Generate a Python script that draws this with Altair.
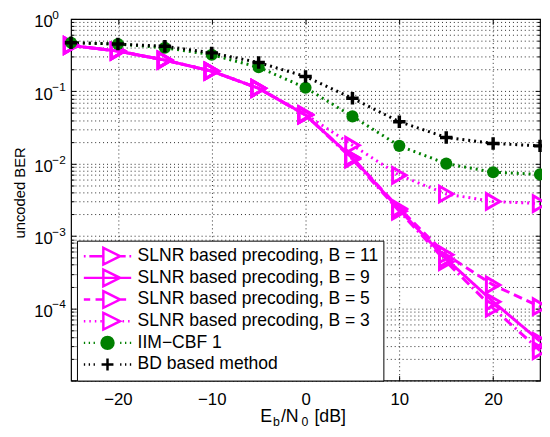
import math
import altair as alt
import pandas as pd

FONT = "Liberation Sans"

# ---------------- data ----------------
x_vals = [-25, -20, -15, -10, -5, 0, 5, 10, 15, 20, 25]
series_names = [
    "SLNR based precoding, B = 11",
    "SLNR based precoding, B = 9",
    "SLNR based precoding, B = 5",
    "SLNR based precoding, B = 3",
    "IIM−CBF 1",
    "BD based method",
]
series_keys = ["b11", "b9", "b5", "b3", "iim", "bd"]
ber_b11 = [0.43, 0.36, 0.27, 0.19, 0.11, 0.047, 0.0115, 0.0022, 0.00044, 0.0001, 0.000026]
ber_b9 = [0.43, 0.36, 0.27, 0.19, 0.11, 0.047, 0.012, 0.0023, 0.00048, 0.000123, 0.000035]
ber_b5 = [0.43, 0.36, 0.27, 0.19, 0.11, 0.047, 0.012, 0.0024, 0.00055, 0.00021, 0.000105]
ber_b3 = [0.43, 0.36, 0.27, 0.19, 0.11, 0.048, 0.018, 0.0069, 0.0038, 0.0030, 0.0028]
ber_iim = [0.47, 0.45, 0.40, 0.32, 0.215, 0.112, 0.045, 0.0176, 0.010, 0.0076, 0.0071]
ber_bd = [0.47, 0.45, 0.42, 0.34, 0.25, 0.16, 0.08, 0.038, 0.023, 0.019, 0.0176]

x_ticks = [-20, -10, 0, 10, 20]
y_decades = [1, 0.1, 0.01, 0.001, 0.0001]
y_exponents = ["0", "−1", "−2", "−3", "−4"]

all_ber = [ber_b11, ber_b9, ber_b5, ber_b3, ber_iim, ber_bd]
rows = []
for name, key, vals in zip(series_names, series_keys, all_ber):
    for xv, yv in zip(x_vals, vals):
        rows.append({"x": xv, "y": yv, "series": name, "key": key})
df = pd.DataFrame(rows)

# ---------------- styles ----------------
MAG = "#ff00ff"
GRN = "#008000"
colors = [MAG, MAG, MAG, MAG, GRN, "#000000"]
dashes = [[10, 4, 2, 4], [1, 0], [9, 5], [2, 4], [2, 4], [2, 4]]
widths = [3, 3, 3, 3, 2, 2]

major_y = [10.0 ** e for e in range(-5, 1)]
minor_y = [m * 10.0 ** e for e in range(-5, 0) for m in range(2, 10)]
grid_vals = sorted(major_y + minor_y)

xscale = alt.Scale(domain=[-25, 25], nice=False, zero=False)
yscale = alt.Scale(type="log", domain=[1e-5, 1], nice=False)

x_enc = alt.X(
    "x:Q", scale=xscale,
    axis=alt.Axis(
        values=x_ticks, title=None, grid=True, gridDash=[1, 3], gridColor="#000000",
        gridOpacity=0.85, gridWidth=1, tickSize=0, labelPadding=11,
        labelFontSize=17, labelFont=FONT, labelColor="black", domain=False,
    ),
)
y_enc = alt.Y(
    "y:Q", scale=yscale,
    axis=alt.Axis(
        values=grid_vals,
        labelExpr="(abs(log(datum.value)/LN10 - round(log(datum.value)/LN10)) < 0.001 && datum.value > 0.00002) ? '10' : ''",
        title="uncoded BER", titleFontSize=15, titleFont=FONT, titleFontWeight="normal",
        titleColor="black", titleX=-52, titleY=176, titleBaseline="middle", titleAngle=270,
        grid=True, gridDash=[1, 3], gridColor="#000000", gridOpacity=0.85, gridWidth=1,
        tickSize=0, labelPadding=19, labelOffset=3, labelFontSize=17, labelFont=FONT,
        labelColor="black", domain=False,
    ),
)
x_na = alt.X("x:Q", scale=xscale, axis=None)
y_na = alt.Y("y:Q", scale=yscale, axis=None)

color_enc = alt.Color("key:N", scale=alt.Scale(domain=series_keys, range=colors), legend=None)

lines = alt.Chart(df).mark_line(clip=False).encode(
    x=x_enc, y=y_enc, color=color_enc,
    strokeDash=alt.StrokeDash("key:N", scale=alt.Scale(domain=series_keys, range=dashes), legend=None),
    strokeWidth=alt.StrokeWidth("key:N", scale=alt.Scale(domain=series_keys, range=widths), legend=None),
    detail="key:N",
)

tri = alt.Chart(df).transform_filter(
    alt.FieldOneOfPredicate(field="key", oneOf=series_keys[:4])
).mark_point(shape="triangle-right", filled=False, size=250, strokeWidth=3, opacity=1).encode(
    x=x_na, y=y_na, color=color_enc
)

circ = alt.Chart(df).transform_filter(
    alt.FieldEqualPredicate(field="key", equal=series_keys[4])
).mark_point(shape="circle", filled=True, size=150, opacity=1).encode(
    x=x_na, y=y_na, color=color_enc
)

PLUS = "M-1,0L1,0M0,-1L0,1"
plus = alt.Chart(df).transform_filter(
    alt.FieldEqualPredicate(field="key", equal=series_keys[5])
).mark_point(shape=PLUS, filled=False, size=160, strokeWidth=3.5, opacity=1).encode(
    x=x_na, y=y_na, color=color_enc
)

# ---------- inward tick marks on all four sides ----------
def tick_axis(orient, values, size):
    return alt.Axis(
        orient=orient, values=values, labels=False, grid=False, domain=False,
        tickSize=size, offset=-size, tickColor="black", tickWidth=1, title=None,
    )

tick_layers = []
for orient in ["top", "bottom"]:
    tick_layers.append(
        alt.Chart(df).mark_point(opacity=0).encode(
            x=alt.X("x:Q", scale=xscale, axis=tick_axis(orient, x_ticks, 5)), y=y_na
        )
    )
for orient in ["left", "right"]:
    tick_layers.append(
        alt.Chart(df).mark_point(opacity=0).encode(
            x=x_na, y=alt.Y("y:Q", scale=yscale, axis=tick_axis(orient, major_y, 5))
        )
    )
    tick_layers.append(
        alt.Chart(df).mark_point(opacity=0).encode(
            x=x_na, y=alt.Y("y:Q", scale=yscale, axis=tick_axis(orient, minor_y, 3))
        )
    )

# ---------- legend (symbols drawn as line + marker glyphs) ----------
TRI = "M-0.47,-0.94L1.42,0L-0.47,0.94Z"
circ_pts = []
for k in range(16):
    a = 2 * math.pi * k / 16
    circ_pts.append(f"{0.67 * math.cos(a):.3f},{0.67 * math.sin(a):.3f}")
CIRC = "M" + "L".join(circ_pts) + "Z"
PLS = "M-0.67,0L0.67,0M0,-0.67L0,0.67"
DOTS = "M-2.67,0L-2.52,0M-2.12,0L-1.97,0M-1.57,0L-1.42,0M1.42,0L1.57,0M1.97,0L2.12,0M2.52,0L2.67,0"
leg_shapes = [
    "M-2.67,0L-2.47,0M-2.05,0L-0.5,0M1.42,0L2.05,0M2.47,0L2.67,0" + TRI,
    "M-2.67,0L2.67,0" + TRI,
    "M-2.67,0L-1.95,0M-1.35,0L-0.5,0M1.42,0L2.1,0" + TRI,
    "M-2.67,0L-2.5,0M-2.05,0L-1.88,0M-1.43,0L-1.26,0M-0.81,0L-0.64,0M1.7,0L1.87,0M2.32,0L2.49,0" + TRI,
    DOTS + CIRC,
    DOTS + PLS,
]
leg_fills = ["#ffffff", "#ffffff", "#ffffff", "#ffffff", GRN, "#000000"]

legend_cfg = alt.Legend(
    title=None, orient="none", legendX=6, legendY=225,
    strokeColor="black", fillColor="white", padding=5,
    symbolSize=324, symbolStrokeWidth=2.5, symbolOffset=15.5, labelOffset=20,
    labelFontSize=17.8, labelFont=FONT, labelColor="black", labelLimit=400,
    rowPadding=0, clipHeight=21.5, symbolOpacity=1,
)

legend_layer = alt.Chart(df).mark_point(size=324, strokeWidth=2.5, opacity=0).encode(
    x=x_na, y=y_na,
    stroke=alt.Stroke("series:N", scale=alt.Scale(domain=series_names, range=colors), legend=legend_cfg),
    fill=alt.Fill("series:N", scale=alt.Scale(domain=series_names, range=leg_fills), legend=legend_cfg),
    shape=alt.Shape("series:N", scale=alt.Scale(domain=series_names, range=leg_shapes), legend=legend_cfg),
)

# ---------- y tick superscripts ----------
sup_df = pd.DataFrame({"y": y_decades, "e": y_exponents})
sup = alt.Chart(sup_df).mark_text(
    align="left", baseline="middle", fontSize=12, font=FONT, color="black", dy=-4
).encode(x=alt.value(-19), y=y_na, text="e:N")

# ---------- x-axis title with subscripts ----------
def piece(t, px, py, fs):
    return alt.Chart(pd.DataFrame({"t": [t]})).mark_text(
        align="left", baseline="alphabetic", fontSize=fs, font=FONT, color="black"
    ).encode(x=alt.value(px), y=alt.value(py), text="t:N")

xtitle = [
    piece("E", 192, 409, 18),
    piece("b", 205, 413.5, 12.5),
    piece("/N", 213, 409, 18),
    piece("0", 234, 413.5, 12.5),
    piece("[dB]", 247, 409, 18),
]

chart = alt.layer(lines, tri, circ, plus, *tick_layers, legend_layer, sup, *xtitle).resolve_axis(
    x="independent", y="independent"
).properties(
    width=476, height=367,
    autosize="none",
    background="white",
    padding={"left": 64, "top": 8, "right": 2, "bottom": 46},
).configure_view(stroke="black", strokeWidth=1.2)

chart.save("out.html", embed_options={"renderer": "svg", "actions": False})
